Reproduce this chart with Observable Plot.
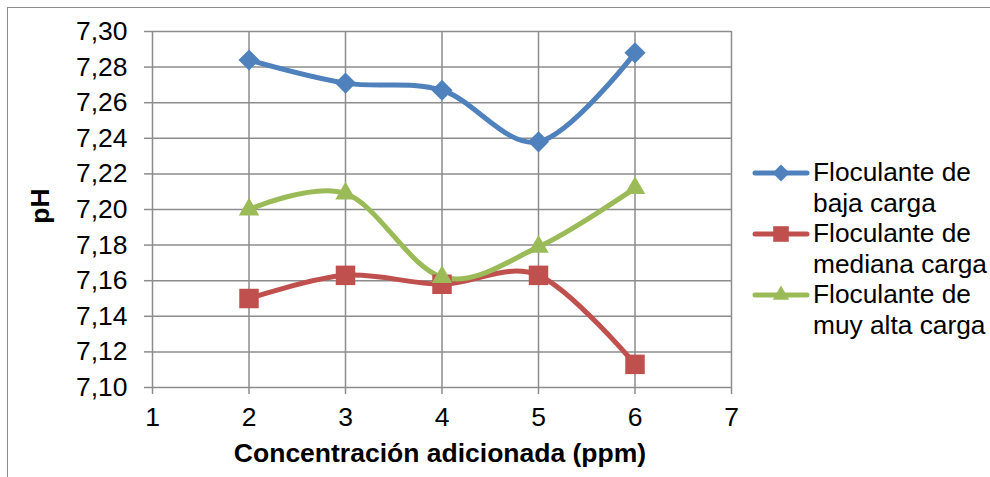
<!DOCTYPE html>
<html><head><meta charset="utf-8">
<script src="https://cdn.jsdelivr.net/npm/d3@7"></script>
<script src="https://cdn.jsdelivr.net/npm/@observablehq/plot@0.6"></script>
<style>
html,body{margin:0;padding:0;background:#fff;overflow:hidden}
#wrap{position:relative;width:990px;height:477px;overflow:hidden;font-family:"Liberation Sans",Arial,sans-serif;color:#000}
#frame{position:absolute;left:7px;top:7px;width:1100px;height:600px;border:1.5px solid #8c8c8c;box-sizing:border-box}
#chart{position:absolute;left:0;top:0}
.t{position:absolute;font-size:26.5px;white-space:nowrap}
.b{font-weight:bold}
.leg{position:absolute;left:813px;font-size:26.3px;line-height:30.5px;white-space:nowrap}
#legsvg{position:absolute;left:0;top:0}
</style>
</head><body>
<div id="wrap">
<div id="frame"></div>
<div id="chart"></div>
</div>
<script>
const concentracion = [2, 3, 4, 5, 6];
const bajaCarga = [7.284, 7.271, 7.267, 7.238, 7.288];
const medianaCarga = [7.150, 7.163, 7.158, 7.163, 7.113];
const muyAltaCarga = [7.200, 7.209, 7.162, 7.179, 7.212];
const seriesNames = ["Floculante de baja carga", "Floculante de mediana carga", "Floculante de muy alta carga"];
const seriesLegendLines = [["Floculante de", "baja carga"], ["Floculante de", "mediana carga"], ["Floculante de", "muy alta carga"]];
const seriesColors = ["#4F81BD", "#C0504D", "#9BBB59"];
const seriesSymbols = ["diamond2", "square", "triangle"];
const seriesR = [9.5, 11, 7.6];
const xTicks = [1, 2, 3, 4, 5, 6, 7];
const yTicks = [7.10, 7.12, 7.14, 7.16, 7.18, 7.20, 7.22, 7.24, 7.26, 7.28, 7.30];
const xTitle = "Concentración adicionada (ppm)";
const yTitle = "pH";

const allValues = [bajaCarga, medianaCarga, muyAltaCarga];
const data = [];
allValues.forEach((vals, s) => vals.forEach((v, i) => data.push({serie: seriesNames[s], s, x: concentracion[i], y: v})));

const font = '"Liberation Sans", Arial, sans-serif';
const grid = "#8c8c8c";
const marks = [
  Plot.gridX(xTicks, {stroke: grid, strokeOpacity: 1, strokeWidth: 1.5}),
  Plot.gridY(yTicks, {stroke: grid, strokeOpacity: 1, strokeWidth: 1.5}),
  Plot.axisX(xTicks, {tickSize: 7, tickPadding: 13, stroke: grid, strokeWidth: 1.5, label: null, tickFormat: d => String(d)}),
  Plot.axisY(yTicks, {tickSize: 8, tickPadding: 17, stroke: grid, strokeWidth: 1.5, label: null, tickFormat: d => d.toFixed(2).replace(".", ",")})
];
seriesNames.forEach((name, s) => {
  const sub = data.filter(d => d.s === s);
  marks.push(Plot.line(sub, {x: "x", y: "y", stroke: seriesColors[s], strokeWidth: 5, curve: "cardinal"}));
});
seriesNames.forEach((name, s) => {
  const sub = data.filter(d => d.s === s);
  marks.push(Plot.dot(sub, {x: "x", y: "y", symbol: seriesSymbols[s], r: seriesR[s], fill: seriesColors[s], stroke: "none"}));
});

const chart = Plot.plot({
  width: 990, height: 477,
  marginLeft: 152, marginRight: 259, marginTop: 31, marginBottom: 90,
  x: {type: "linear", domain: [1, 7]},
  y: {type: "linear", domain: [7.10, 7.30]},
  style: {fontFamily: font, fontSize: "26.5px", color: "#000", background: "transparent", overflow: "visible"},
  marks
});
document.getElementById("chart").appendChild(chart);

const wrap = document.getElementById("wrap");
// axis titles
const xt = document.createElement("div");
xt.className = "t b"; xt.textContent = xTitle;
xt.style.left = "440px"; xt.style.top = "438px"; xt.style.transform = "translateX(-50%)";
wrap.appendChild(xt);
const yt = document.createElement("div");
yt.className = "t b"; yt.textContent = yTitle;
yt.style.left = "40px"; yt.style.top = "206px"; yt.style.transform = "translate(-50%,-50%) rotate(-90deg)";
wrap.appendChild(yt);

// legend
const ns = "http://www.w3.org/2000/svg";
const lsvg = document.createElementNS(ns, "svg");
lsvg.setAttribute("width", 990); lsvg.setAttribute("height", 477); lsvg.id = "legsvg";
const legTop = [157, 218, 279];
seriesNames.forEach((name, s) => {
  const cy = legTop[s] + 16;
  const ln = document.createElementNS(ns, "line");
  ln.setAttribute("x1", 755); ln.setAttribute("x2", 807); ln.setAttribute("y1", cy); ln.setAttribute("y2", cy);
  ln.setAttribute("stroke", seriesColors[s]); ln.setAttribute("stroke-width", 5); ln.setAttribute("stroke-linecap", "round");
  lsvg.appendChild(ln);
  const p = document.createElementNS(ns, "path");
  const sym = {diamond2: d3.symbolDiamond2, square: d3.symbolSquare, triangle: d3.symbolTriangle}[seriesSymbols[s]];
  const rr = seriesR[s] * 0.8;
  p.setAttribute("d", d3.symbol(sym, Math.PI * rr * rr)());
  p.setAttribute("transform", `translate(781,${cy})`);
  p.setAttribute("fill", seriesColors[s]);
  lsvg.appendChild(p);
  const t = document.createElement("div");
  t.className = "leg"; t.style.top = legTop[s] + "px";
  t.innerHTML = seriesLegendLines[s].join("<br>");
  wrap.appendChild(t);
});
wrap.appendChild(lsvg);
</script>
</body></html>
